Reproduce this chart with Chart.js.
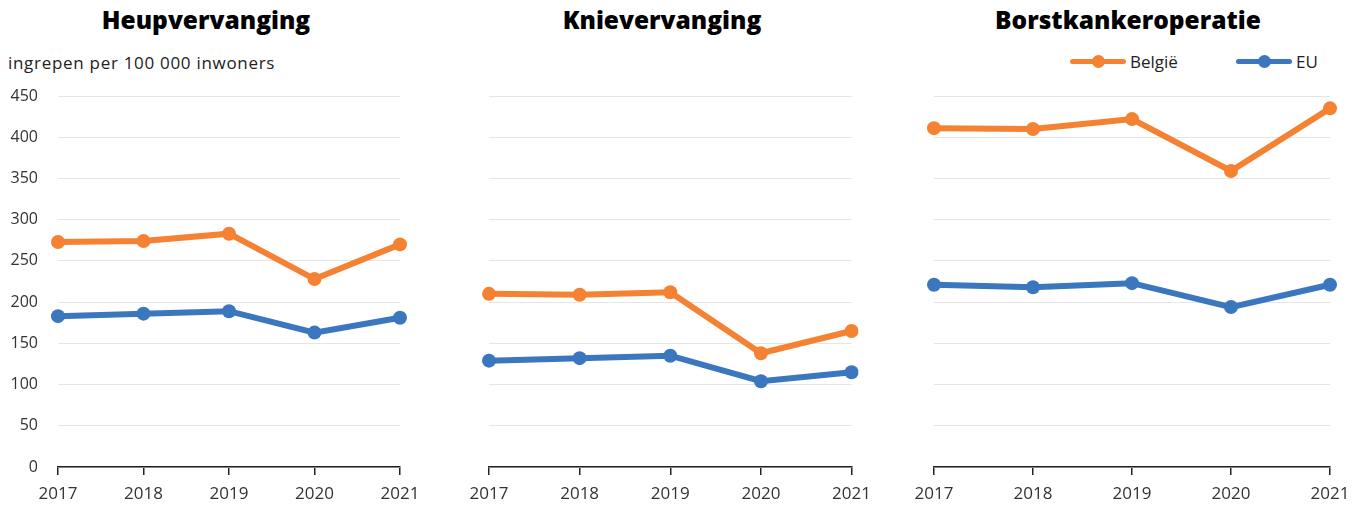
<!DOCTYPE html>
<html>
<head>
<meta charset="utf-8">
<script src="https://cdn.jsdelivr.net/npm/chart.js@4.4.1/dist/chart.umd.min.js"></script>
<style>
  body { margin: 0; background: #fff; font-family: "Open Sans", sans-serif; }
  #wrap { position: relative; width: 1364px; height: 505px; overflow: hidden; }
  .box { position: absolute; }
  .title { position: absolute; top: 3px; font-weight: 800; font-size: 24.5px; color: #000; text-align: center; }
  .unit { position: absolute; left: 8px; top: 51px; font-size: 17px; letter-spacing: 0.7px; color: #222; }
  .legend { position: absolute; top: 50px; font-size: 17px; color: #222; display: flex; align-items: center; }
  .legend .ln { position: relative; width: 56px; height: 5px; border-radius: 3px; margin-right: 4px; }
  .legend .ln i { position: absolute; left: 22px; top: -4px; width: 13px; height: 13px; border-radius: 50%; background: inherit; }
</style>
</head>
<body>
<div id="wrap">
  <div class="title" style="left:0;width:412px">Heupvervanging</div>
  <div class="title" style="left:460px;width:404px">Knievervanging</div>
  <div class="title" style="left:900px;width:456px">Borstkankeroperatie</div>
  <div class="unit">ingrepen per 100 000 inwoners</div>
  <div class="legend" style="left:1070px"><span class="ln" style="background:#F58233"><i></i></span>België</div>
  <div class="legend" style="left:1236px"><span class="ln" style="background:#3A77BE"><i></i></span>EU</div>

  <div class="box" style="left:0;top:80px;width:430px;height:425px"><canvas id="c1"></canvas></div>
  <div class="box" style="left:460px;top:80px;width:420px;height:425px"><canvas id="c2"></canvas></div>
  <div class="box" style="left:900px;top:80px;width:464px;height:425px"><canvas id="c3"></canvas></div>
</div>
<script>
const years = ['2017', '2018', '2019', '2020', '2021'];
const yTicks = [0, 50, 100, 150, 200, 250, 300, 350, 400, 450];

// heupvervanging
const heupBE = [273, 274, 283, 228, 270];
const heupEU = [183, 186, 189, 163, 181];
// knievervanging
const knieBE = [210, 209, 212, 138, 165];
const knieEU = [129, 132, 135, 104, 115];
// borstkankeroperatie
const borstBE = [411, 410, 422, 359, 435];
const borstEU = [221, 218, 223, 194, 221];

const orange = '#F58233';
const blue = '#3A77BE';

function makeChart(id, be, eu, yWidth, rightPad, showLabels) {
    const ctx = document.getElementById(id).getContext('2d');
    return new Chart(ctx, {
        type: 'line',
        data: {
            labels: years,
            datasets: [
                { label: 'België', data: be, borderColor: orange, backgroundColor: orange },
                { label: 'EU', data: eu, borderColor: blue, backgroundColor: blue }
            ]
        },
        options: {
            responsive: true,
            maintainAspectRatio: false,
            animation: false,
            layout: { padding: { top: 16, right: rightPad, left: 0, bottom: 0 } },
            elements: {
                line: { borderWidth: 6, tension: 0 },
                point: { radius: 7, borderWidth: 0, hoverRadius: 7 }
            },
            plugins: { legend: { display: false }, tooltip: { enabled: false } },
            scales: {
                x: {
                    offset: false,
                    afterFit: s => { s.height = 38; },
                    grid: { drawOnChartArea: false, drawTicks: true, tickLength: 8, color: '#222', lineWidth: 1.5 },
                    border: { display: true, color: '#222', width: 1.5 },
                    ticks: { color: '#333', font: { family: 'Open Sans', size: 17 }, padding: 9, maxRotation: 0 }
                },
                y: {
                    min: 0,
                    max: 450,
                    afterBuildTicks: s => { s.ticks = yTicks.map(v => ({ value: v })); },
                    // fixed width, and no extra top/bottom padding from the tick labels
                    afterFit: s => { s.width = yWidth; s.paddingTop = 0; s.paddingBottom = 0; },
                    grid: { color: '#e6e6e6', lineWidth: 1, drawTicks: false },
                    border: { display: false },
                    ticks: { display: showLabels, color: '#333', font: { family: 'Open Sans', size: 16 }, padding: 20 }
                }
            }
        }
    });
}

makeChart('c1', heupBE, heupEU, 58, 30, true);
makeChart('c2', knieBE, knieEU, 29, 27, false);
makeChart('c3', borstBE, borstEU, 34, 34, false);
</script>
</body>
</html>
